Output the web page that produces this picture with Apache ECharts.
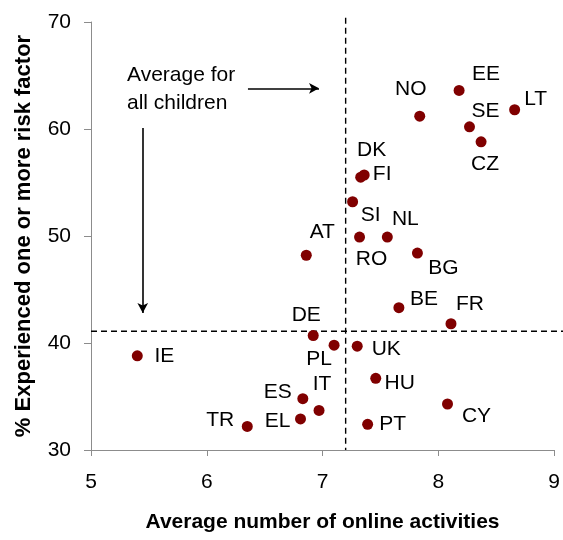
<!DOCTYPE html>
<html>
<head>
<meta charset="utf-8">
<script src="https://cdn.jsdelivr.net/npm/echarts@6/dist/echarts.min.js"></script>
<style>
  html, body { margin: 0; padding: 0; background: #fff; }
  #chart { width: 563px; height: 540px; }
</style>
</head>
<body>
<div id="chart"></div>
<script>
// Country codes
const countries = ['EE', 'LT', 'NO', 'SE', 'CZ', 'DK', 'FI', 'SI', 'NL', 'RO', 'AT', 'BG', 'BE',
  'FR', 'DE', 'PL', 'UK', 'HU', 'ES', 'IT', 'EL', 'PT', 'CY', 'IE', 'TR'];
// Average number of online activities
const activities = [8.18, 8.66, 7.84, 8.27, 8.37, 7.33, 7.36, 7.26, 7.56, 7.32, 6.86, 7.82, 7.66,
  8.11, 6.92, 7.10, 7.30, 7.46, 6.83, 6.97, 6.81, 7.39, 8.08, 5.40, 6.35];
// % experienced one or more risk factor
const riskPct = [63.6, 61.8, 61.2, 60.2, 58.8, 55.5, 55.7, 53.2, 49.9, 49.9, 48.2, 48.4, 43.3,
  41.8, 40.7, 39.8, 39.7, 36.7, 34.8, 33.7, 32.9, 32.4, 34.3, 38.8, 32.2];
// Averages for all children
const avgActivities = 7.2;
const avgRisk = 41.1;
// Axis ticks
const xTicks = [5, 6, 7, 8, 9];
const yTicks = [30, 40, 50, 60, 70];

// Label placement around each dot (pixel offsets of the label centre)
const labelOffsets = {
  EE: [27, -16], LT: [21, -11], NO: [-9, -27], SE: [16, -16], CZ: [4, 22],
  DK: [11, -27], FI: [18, -1], SI: [18, 13], NL: [18, -18], RO: [12, 22],
  AT: [16, -23], BG: [26, 15], BE: [25, -8], FR: [19, -20], DE: [-7, -20],
  PL: [-15, 14], UK: [29, 3], HU: [24, 5], ES: [-25, -6], IT: [3, -26],
  EL: [-23, 2], PT: [25, 0], CY: [29, 12], IE: [27, 0], TR: [-27, -6]
};

const FONT = "'Liberation Sans', Arial, sans-serif";
const AXIS_GREY = '#8c8c8c';

const points = countries.map((c, i) => ({
  name: c,
  value: [activities[i], riskPct[i]],
  label: { offset: labelOffsets[c] }
}));

const chart = echarts.init(document.getElementById('chart'), null, { renderer: 'canvas' });

chart.setOption({
  animation: false,
  backgroundColor: '#ffffff',
  grid: { left: 91, right: 9, top: 22, bottom: 90, containLabel: false },
  xAxis: {
    type: 'value',
    min: xTicks[0], max: xTicks[xTicks.length - 1], interval: 1,
    name: 'Average number of online activities',
    nameLocation: 'middle',
    nameGap: 62,
    nameTextStyle: { fontFamily: FONT, fontSize: 21, fontWeight: 'bold', color: '#000' },
    axisLine: { show: true, lineStyle: { color: AXIS_GREY, width: 1 } },
    axisTick: { show: true, length: 6, lineStyle: { color: AXIS_GREY } },
    axisLabel: { fontFamily: FONT, fontSize: 21, color: '#000', margin: 22 },
    splitLine: { show: false }
  },
  yAxis: {
    type: 'value',
    min: yTicks[0], max: yTicks[yTicks.length - 1], interval: 10,
    name: '% Experienced one or more risk factor',
    nameLocation: 'middle',
    nameGap: 56,
    nameTextStyle: { fontFamily: FONT, fontSize: 22, fontWeight: 'bold', color: '#000' },
    axisLine: { show: true, lineStyle: { color: AXIS_GREY, width: 1 } },
    axisTick: { show: true, length: 7, lineStyle: { color: AXIS_GREY } },
    axisLabel: { fontFamily: FONT, fontSize: 21, color: '#000', margin: 20 },
    splitLine: { show: false }
  },
  series: [
    {
      type: 'scatter',
      clip: false,
      data: [],
      silent: true,
      // Arrows pointing at the average lines
      markLine: {
        silent: true,
        symbol: ['none', 'arrow'],
        symbolSize: [8, 10],
        label: { show: false },
        lineStyle: { color: '#000', type: 'solid', width: 1.6 },
        data: [
          [{ coord: [6.356, 63.8] }, { coord: [6.97, 63.8] }],
          [{ coord: [5.447, 60.1] }, { coord: [5.447, 42.8] }]
        ]
      }
    },
    {
      type: 'scatter',
      symbolSize: 11,
      itemStyle: { color: '#800000', opacity: 1 },
      data: points,
      z: 3,
      label: {
        show: true,
        position: 'inside',
        align: 'center',
        verticalAlign: 'middle',
        formatter: p => p.name,
        fontFamily: FONT,
        fontSize: 21,
        color: '#000'
      },
      emphasis: { disabled: true }
    }
  ]
});

// Dashed average lines, positioned through the axes' scales; they run slightly
// past the plot's top and right edges.
const dashStyle = { stroke: '#000', lineWidth: 1.4, lineDash: [6, 4] };
const vTop = chart.convertToPixel({ gridIndex: 0 }, [avgActivities, 70.4]);
const vBot = chart.convertToPixel({ gridIndex: 0 }, [avgActivities, 30]);
const hLeft = chart.convertToPixel({ gridIndex: 0 }, [5, avgRisk]);
const hRight = chart.convertToPixel({ gridIndex: 0 }, [9.08, avgRisk]);

chart.setOption({
  graphic: [
    {
      type: 'line', silent: true, z: 1,
      shape: { x1: vTop[0], y1: vTop[1], x2: vBot[0], y2: vBot[1] },
      style: dashStyle
    },
    {
      type: 'line', silent: true, z: 1,
      shape: { x1: hLeft[0], y1: hLeft[1], x2: hRight[0], y2: hRight[1] },
      style: dashStyle
    },
    {
      type: 'text',
      left: 127,
      top: 61,
      silent: true,
      style: {
        text: 'Average for\nall children',
        font: "21px 'Liberation Sans', Arial, sans-serif",
        lineHeight: 28,
        fill: '#000'
      }
    }
  ]
});
</script>
</body>
</html>
